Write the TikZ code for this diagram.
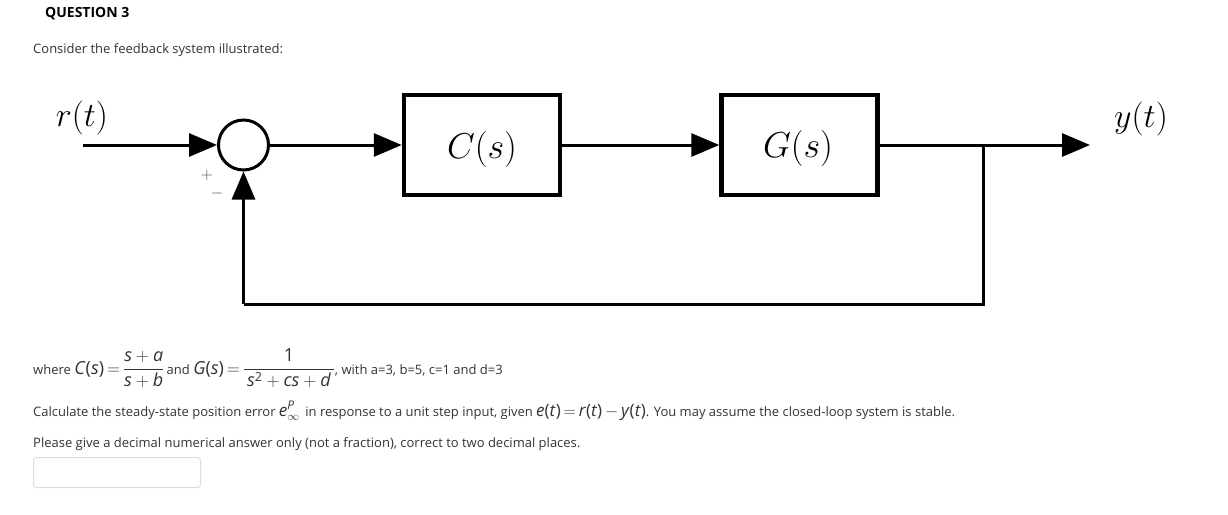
\documentclass[tikz,border=0pt]{standalone}
\usepackage{fix-cm}
\usepackage{amsmath}
\usepackage{fontspec}
\setmainfont{Open Sans}
\usetikzlibrary{arrows.meta}
\definecolor{txt}{HTML}{333333}
\definecolor{boxline}{HTML}{DDDDDD}
\newcommand\bigtxt{\fontsize{17}{19}\selectfont}
\newcommand\eqtxt{\fontsize{18}{20}\selectfont}
\newcommand\myfrac[2]{\genfrac{}{}{0.9pt}{0}{#1}{#2}}
\begin{document}
\begin{tikzpicture}[x=1pt,y=-1pt,
  conn/.style={line width=3pt},
  arr/.style={conn,-{Triangle[length=28pt,width=23pt]}},
  blk/.style={draw,line width=4.5pt,minimum width=156pt,minimum height=100pt,inner sep=0pt},
  sumj/.style={draw,circle,line width=3pt,minimum size=50pt,inner sep=0pt},
  lbl/.style={inner sep=0pt,font=\fontsize{34}{40}\selectfont},
  blbl/.style={inner sep=0pt,font=\fontsize{36}{42}\selectfont},
  sgn/.style={inner sep=0pt,font=\fontsize{16}{18}\selectfont,text=black!70},
  small/.style={inner sep=0pt,anchor=base west,text=txt,font=\fontsize{13}{15}\selectfont}
]
\useasboundingbox (0,0) rectangle (1228,514);

% diagram
\coordinate (in) at (83,145);
\node[sumj] (sum) at (243.5,145) {};
\node[blk] (C) at (482,145) {};
\node[blk] (G) at (799.5,145) {};
\coordinate (out) at (1090,145);
\coordinate (br) at (983,145);
\coordinate (fb1) at (983,304);
\coordinate (fb2) at (243.5,304);

\draw[arr] (in) -- (sum.west);
\draw[arr] (sum.east) -- (C.west);
\draw[arr] (C.east) -- (G.west);
\draw[arr] (G.east) -- (out);
\draw[conn,line join=miter] (br) -- (fb1) -- (fb2);
\draw[arr] (fb2) -- (sum.south);

\node[lbl] (rt) at (82,118) {$r(t)$};
\node[lbl] (yt) at (1141,119) {$y(t)$};
\node[blbl] (Cs) at (482,149) {$C(s)$};
\node[blbl] (Gs) at (798,148) {$G(s)$};
\node[sgn] (plus) at (207,175) {$+$};
\node[sgn] (minus) at (217,193) {$-$};

% texts
\node[inner sep=0pt,anchor=base west,text=black,font=\fontsize{14}{16}\selectfont\bfseries] (q) at (45,17) {QUESTION 3};
\node[small] (cons) at (33,53) {Consider the feedback system illustrated:};
\node[small] (where) at (33,374) {where {\eqtxt \textit{C}(\textit{s})\,$=$\,$\myfrac{\textit{s}+\textit{a}}{\textit{s}+\textit{b}}$}\,and {\eqtxt \textit{G}(\textit{s})\,$=$\,$\myfrac{\textup{1}}{\,\textit{s}^{\text{2}}+\textit{cs}+\textit{d}\,}$}, with a=3, b=5, c=1 and d=3};
\node[small] (calc) at (33,416) {Calculate the steady-state position error {\bigtxt\textit{e}$^{\textit{P}}_{\infty}$}\, in response to a unit step input, given {\bigtxt \textit{e}(\textit{t})\,$=$\,\textit{r}(\textit{t})\,$-$\,\textit{y}(\textit{t})}. You may assume the closed-loop system is stable.};
\node[small] (please) at (33,447) {Please give a decimal numerical answer only (not a fraction), correct to two decimal places.};
\node[draw=boxline,line width=1pt,rounded corners=3pt,minimum width=167pt,minimum height=30pt,anchor=north west,inner sep=0pt] (ans) at (33,457) {};
\end{tikzpicture}
\end{document}
